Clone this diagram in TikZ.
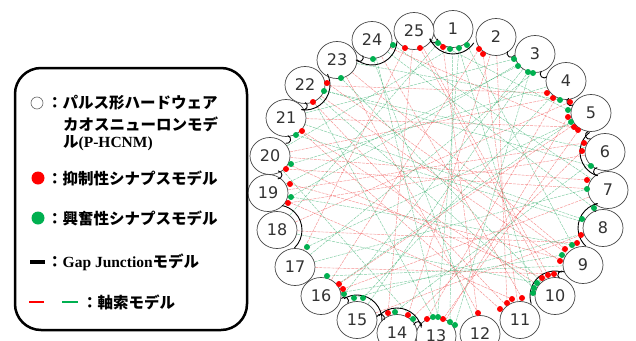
\documentclass[tikz,border=0pt]{standalone}
\usepackage{fontspec}
\setmainfont{Liberation Serif}
\newfontfamily\jp{Noto Sans CJK JP}
\newfontfamily\numfont{DejaVu Sans}
\usetikzlibrary{shapes.geometric,backgrounds,calc}
\pgfdeclarelayer{bottom}
\pgfsetlayers{bottom,background,main}
\definecolor{synred}{RGB}{255,0,0}
\definecolor{syngreen}{RGB}{0,176,80}
\definecolor{axred}{RGB}{240,70,70}
\definecolor{axgreen}{RGB}{40,170,100}
\definecolor{nodegray}{RGB}{70,70,70}
\newcommand\gjhook[2]{%
  \coordinate (hm) at ($(#1)!0.5!(#2)$);
  \draw[gap] let \p1=($(cen)-(hm)$), \n1={atan2(\y1,\x1)} in
    ($(hm)+(\n1:9pt)+(\n1-90:4pt)$) arc[start angle=\n1-90, end angle=\n1+90, radius=4pt];}
\begin{document}
\begin{tikzpicture}[x=1pt,y=1pt,
  neuron/.style={ellipse, draw=nodegray, line width=0.7pt, fill=white,
    minimum width=40pt, minimum height=37pt, inner sep=0pt,
    font=\numfont\fontsize{16pt}{16pt}\selectfont, text=black!80},
  rdot/.style={circle, fill=synred, minimum size=6pt, inner sep=0pt},
  gdot/.style={circle, fill=syngreen, minimum size=6pt, inner sep=0pt},
  raxon/.style={draw=axred, line width=0.45pt, dash pattern=on 3pt off 1pt, opacity=0.6},
  gaxon/.style={draw=axgreen, line width=0.45pt, dash pattern=on 3pt off 1pt, opacity=0.6},
  gap/.style={draw=black, line width=0.9pt},
  legtext/.style={anchor=west, inner sep=0pt, font=\jp\bfseries\fontsize{15.5pt}{20pt}\selectfont}
]
\useasboundingbox (0,0) rectangle (636,-340);
\begin{pgfonlayer}{bottom}
\fill[white] (0,0) rectangle (636,-340);
\end{pgfonlayer}
\coordinate (cen) at (438,-182);

% neurons
\node[neuron] (n1) at (453,-29) {1};
\node[neuron] (n2) at (496,-37) {2};
\node[neuron] (n3) at (535,-54) {3};
\node[neuron] (n4) at (566,-81) {4};
\node[neuron] (n5) at (591,-113) {5};
\node[neuron] (n6) at (605,-152) {6};
\node[neuron] (n7) at (608,-190) {7};
\node[neuron] (n8) at (603,-228) {8};
\node[neuron] (n9) at (583,-265) {9};
\node[neuron] (n10) at (555,-296) {10};
\node[neuron] (n11) at (520,-320) {11};
\node[neuron] (n12) at (480,-334) {12};
\node[neuron] (n13) at (436,-336) {13};
\node[neuron] (n14) at (397,-333) {14};
\node[neuron] (n15) at (357,-320) {15};
\node[neuron] (n16) at (321,-296) {16};
\node[neuron] (n17) at (295,-267) {17};
\node[neuron] (n18) at (277,-230) {18};
\node[neuron] (n19) at (268,-193) {19};
\node[neuron] (n20) at (270,-156) {20};
\node[neuron] (n21) at (286,-118) {21};
\node[neuron] (n22) at (305,-85) {22};
\node[neuron] (n23) at (337,-60) {23};
\node[neuron] (n24) at (372,-40) {24};
\node[neuron] (n25) at (414,-31) {25};

% gap junctions
\draw[gap] (n1.center) ++(202.4:25pt) arc[start angle=202.4, end angle=326.4, radius=25pt];
\draw[gap] (n24.center) ++(-127.1:25pt) arc[start angle=-127.1, end angle=-3.1, radius=25pt];
\draw[gap] (n22.center) ++(-98.1:25pt) arc[start angle=-98.1, end angle=25.9, radius=25pt];
\draw[gap] (n18.center) ++(-45.4:25pt) arc[start angle=-45.4, end angle=78.6, radius=25pt];
\draw[gap] (n15.center) ++(-2.4:25pt) arc[start angle=-2.4, end angle=121.6, radius=25pt];
\draw[gap] (n14.center) ++(12.8:25pt) arc[start angle=12.8, end angle=136.8, radius=25pt];
\draw[gap] (n10.center) ++(73.7:25pt) arc[start angle=73.7, end angle=197.7, radius=25pt];
\draw[gap] (n8.center) ++(102.4:25pt) arc[start angle=102.4, end angle=226.4, radius=25pt];
\draw[gap] (n6.center) ++(128.2:25pt) arc[start angle=128.2, end angle=252.2, radius=25pt];
\gjhook{n2}{n3}
\gjhook{n3}{n4}
\gjhook{n4}{n5}
\gjhook{n5}{n6}
\gjhook{n6}{n7}
\gjhook{n7}{n8}
\gjhook{n9}{n10}
\gjhook{n13}{n14}
\gjhook{n14}{n15}
\gjhook{n15}{n16}
\gjhook{n19}{n20}
\gjhook{n20}{n21}
\gjhook{n21}{n22}
\gjhook{n23}{n24}
\gjhook{n25}{n1}

% synapse dots
\node[gdot] (d1) at (393,-45) {};
\node[rdot] (d2) at (405,-48) {};
\node[rdot] (d3) at (420,-48) {};
\node[gdot] (d4) at (438,-43) {};
\node[rdot] (d5) at (443,-47) {};
\node[gdot] (d6) at (450,-49) {};
\node[gdot] (d7) at (459,-48) {};
\node[gdot] (d8) at (467,-45) {};
\node[rdot] (d9) at (479,-49) {};
\node[rdot] (d10) at (483,-54) {};
\node[gdot] (d11) at (514,-59) {};
\node[gdot] (d12) at (518,-66) {};
\node[gdot] (d13) at (528,-72) {};
\node[gdot] (d14) at (533,-73) {};
\node[rdot] (d15) at (547,-93) {};
\node[rdot] (d16) at (553,-98) {};
\node[gdot] (d17) at (560,-100) {};
\node[rdot] (d18) at (570,-102) {};
\node[gdot] (d19) at (568,-110) {};
\node[rdot] (d20) at (568,-117) {};
\node[gdot] (d21) at (571,-122) {};
\node[rdot] (d22) at (574,-127) {};
\node[rdot] (d23) at (578,-130) {};
\node[rdot] (d24) at (584,-143) {};
\node[rdot] (d25) at (582,-151) {};
\node[gdot] (d26) at (591,-166) {};
\node[rdot] (d27) at (587,-180) {};
\node[gdot] (d28) at (587,-189) {};
\node[gdot] (d29) at (594,-208) {};
\node[gdot] (d30) at (582,-219) {};
\node[rdot] (d31) at (581,-235) {};
\node[rdot] (d32) at (577,-243) {};
\node[gdot] (d33) at (572,-245) {};
\node[rdot] (d34) at (565,-249) {};
\node[gdot] (d35) at (562,-255) {};
\node[rdot] (d36) at (560,-261) {};
\node[rdot] (d37) at (554,-274) {};
\node[rdot] (d38) at (548,-275) {};
\node[rdot] (d39) at (542,-278) {};
\node[gdot] (d40) at (537,-283) {};
\node[gdot] (d41) at (534,-288) {};
\node[gdot] (d42) at (533,-293) {};
\node[rdot] (d43) at (522,-298) {};
\node[rdot] (d44) at (512,-299) {};
\node[rdot] (d45) at (507,-303) {};
\node[rdot] (d46) at (500,-309) {};
\node[rdot] (d47) at (478,-313) {};
\node[gdot] (d48) at (455,-325) {};
\node[gdot] (d49) at (450,-322) {};
\node[rdot] (d50) at (443,-319) {};
\node[gdot] (d51) at (438,-317) {};
\node[gdot] (d52) at (433,-317) {};
\node[rdot] (d53) at (427,-319) {};
\node[gdot] (d54) at (413,-319) {};
\node[rdot] (d55) at (408,-315) {};
\node[gdot] (d56) at (395,-312) {};
\node[rdot] (d57) at (388,-313) {};
\node[gdot] (d58) at (363,-298) {};
\node[gdot] (d59) at (354,-298) {};
\node[gdot] (d60) at (344,-294) {};
\node[rdot] (d61) at (343,-289) {};
\node[rdot] (d62) at (339,-284) {};
\node[gdot] (d63) at (327,-276) {};
\node[gdot] (d64) at (307,-247) {};
\node[rdot] (d65) at (288,-203) {};
\node[gdot] (d66) at (291,-197) {};
\node[rdot] (d67) at (290,-184) {};
\node[rdot] (d68) at (286,-169) {};
\node[gdot] (d69) at (291,-164) {};
\node[gdot] (d70) at (296,-135) {};
\node[rdot] (d71) at (302,-131) {};
\node[rdot] (d72) at (313,-102) {};
\node[gdot] (d73) at (324,-91) {};
\node[rdot] (d74) at (327,-83) {};
\node[gdot] (d75) at (341,-78) {};
\node[gdot] (d76) at (373,-59) {};

% axons
\begin{pgfonlayer}{background}
\draw[gaxon] (n7) -- (d1);
\draw[raxon] (n17) -- (d2);
\draw[raxon] (n10) -- (d3);
\draw[gaxon] (n18) -- (d4);
\draw[raxon] (n12) -- (d5);
\draw[gaxon] (n20) -- (d6);
\draw[gaxon] (n13) -- (d7);
\draw[gaxon] (n9) -- (d8);
\draw[raxon] (n16) -- (d9);
\draw[raxon] (n11) -- (d10);
\draw[gaxon] (n21) -- (d11);
\draw[gaxon] (n19) -- (d12);
\draw[gaxon] (n15) -- (d13);
\draw[gaxon] (n17) -- (d14);
\draw[raxon] (n22) -- (d15);
\draw[raxon] (n20) -- (d16);
\draw[gaxon] (n23) -- (d17);
\draw[raxon] (n18) -- (d18);
\draw[gaxon] (n25) -- (d19);
\draw[raxon] (n13) -- (d20);
\draw[gaxon] (n16) -- (d21);
\draw[raxon] (n21) -- (d22);
\draw[raxon] (n24) -- (d23);
\draw[raxon] (n19) -- (d24);
\draw[raxon] (n14) -- (d25);
\draw[gaxon] (n22) -- (d26);
\draw[raxon] (n20) -- (d27);
\draw[gaxon] (n17) -- (d28);
\draw[gaxon] (n24) -- (d29);
\draw[gaxon] (n21) -- (d30);
\draw[raxon] (n15) -- (d31);
\draw[raxon] (n18) -- (d32);
\draw[gaxon] (n19) -- (d33);
\draw[raxon] (n23) -- (d34);
\draw[gaxon] (n16) -- (d35);
\draw[raxon] (n22) -- (d36);
\draw[raxon] (n17) -- (d37);
\draw[raxon] (n25) -- (d38);
\draw[raxon] (n20) -- (d39);
\draw[gaxon] (n18) -- (d40);
\draw[gaxon] (n22) -- (d41);
\draw[gaxon] (n1) -- (d42);
\draw[raxon] (n24) -- (d43);
\draw[raxon] (n19) -- (d44);
\draw[raxon] (n2) -- (d45);
\draw[raxon] (n21) -- (d46);
\draw[raxon] (n23) -- (d47);
\draw[gaxon] (n3) -- (d48);
\draw[gaxon] (n1) -- (d49);
\draw[raxon] (n5) -- (d50);
\draw[gaxon] (n24) -- (d51);
\draw[gaxon] (n22) -- (d52);
\draw[raxon] (n4) -- (d53);
\draw[gaxon] (n20) -- (d54);
\draw[raxon] (n2) -- (d55);
\draw[gaxon] (n6) -- (d56);
\draw[raxon] (n25) -- (d57);
\draw[gaxon] (n4) -- (d58);
\draw[gaxon] (n8) -- (d59);
\draw[gaxon] (n3) -- (d60);
\draw[raxon] (n7) -- (d61);
\draw[raxon] (n5) -- (d62);
\draw[gaxon] (n9) -- (d63);
\draw[gaxon] (n5) -- (d64);
\draw[raxon] (n6) -- (d65);
\draw[gaxon] (n3) -- (d66);
\draw[raxon] (n9) -- (d67);
\draw[raxon] (n7) -- (d68);
\draw[gaxon] (n4) -- (d69);
\draw[gaxon] (n8) -- (d70);
\draw[raxon] (n10) -- (d71);
\draw[raxon] (n11) -- (d72);
\draw[gaxon] (n6) -- (d73);
\draw[raxon] (n9) -- (d74);
\draw[gaxon] (n10) -- (d75);
\draw[gaxon] (n12) -- (d76);
\end{pgfonlayer}

% legend
\draw[line width=2.5pt, rounded corners=26pt] (15,-68) rectangle (247,-330);
\node[circle, draw=black!60, line width=0.6pt, minimum size=12pt, inner sep=0pt] (lc) at (37,-103) {};
\node[legtext] (l1a) at (47,-103) {：パルス形ハードウェア};
\node[legtext] (l1b) at (63,-124) {カオスニューロンモデ};
\node[legtext] (l1c) at (63,-143) {ル{\rmfamily\bfseries (P-HCNM)}};
\node[circle, fill=synred, minimum size=13pt, inner sep=0pt] (lr) at (38,-178) {};
\node[legtext] (l2) at (47,-178) {：抑制性シナプスモデル};
\node[circle, fill=syngreen, minimum size=13pt, inner sep=0pt] (lg) at (38,-218) {};
\node[legtext] (l3) at (47,-218) {：興奮性シナプスモデル};
\coordinate (gb1) at (30,-262);
\coordinate (gb2) at (45,-262);
\draw[line width=4.5pt] (gb1) -- (gb2);
\node[legtext] (l4) at (47,-262) {：{\rmfamily\bfseries Gap Junction}モデル};
\coordinate (ar1) at (29,-302);
\coordinate (ar2) at (44,-302);
\coordinate (ag1) at (62,-302);
\coordinate (ag2) at (78,-302);
\draw[synred, line width=2pt] (ar1) -- (ar2);
\draw[syngreen, line width=2pt] (ag1) -- (ag2);
\node[legtext] (l5) at (82,-302) {：軸索モデル};
\end{tikzpicture}
\end{document}
